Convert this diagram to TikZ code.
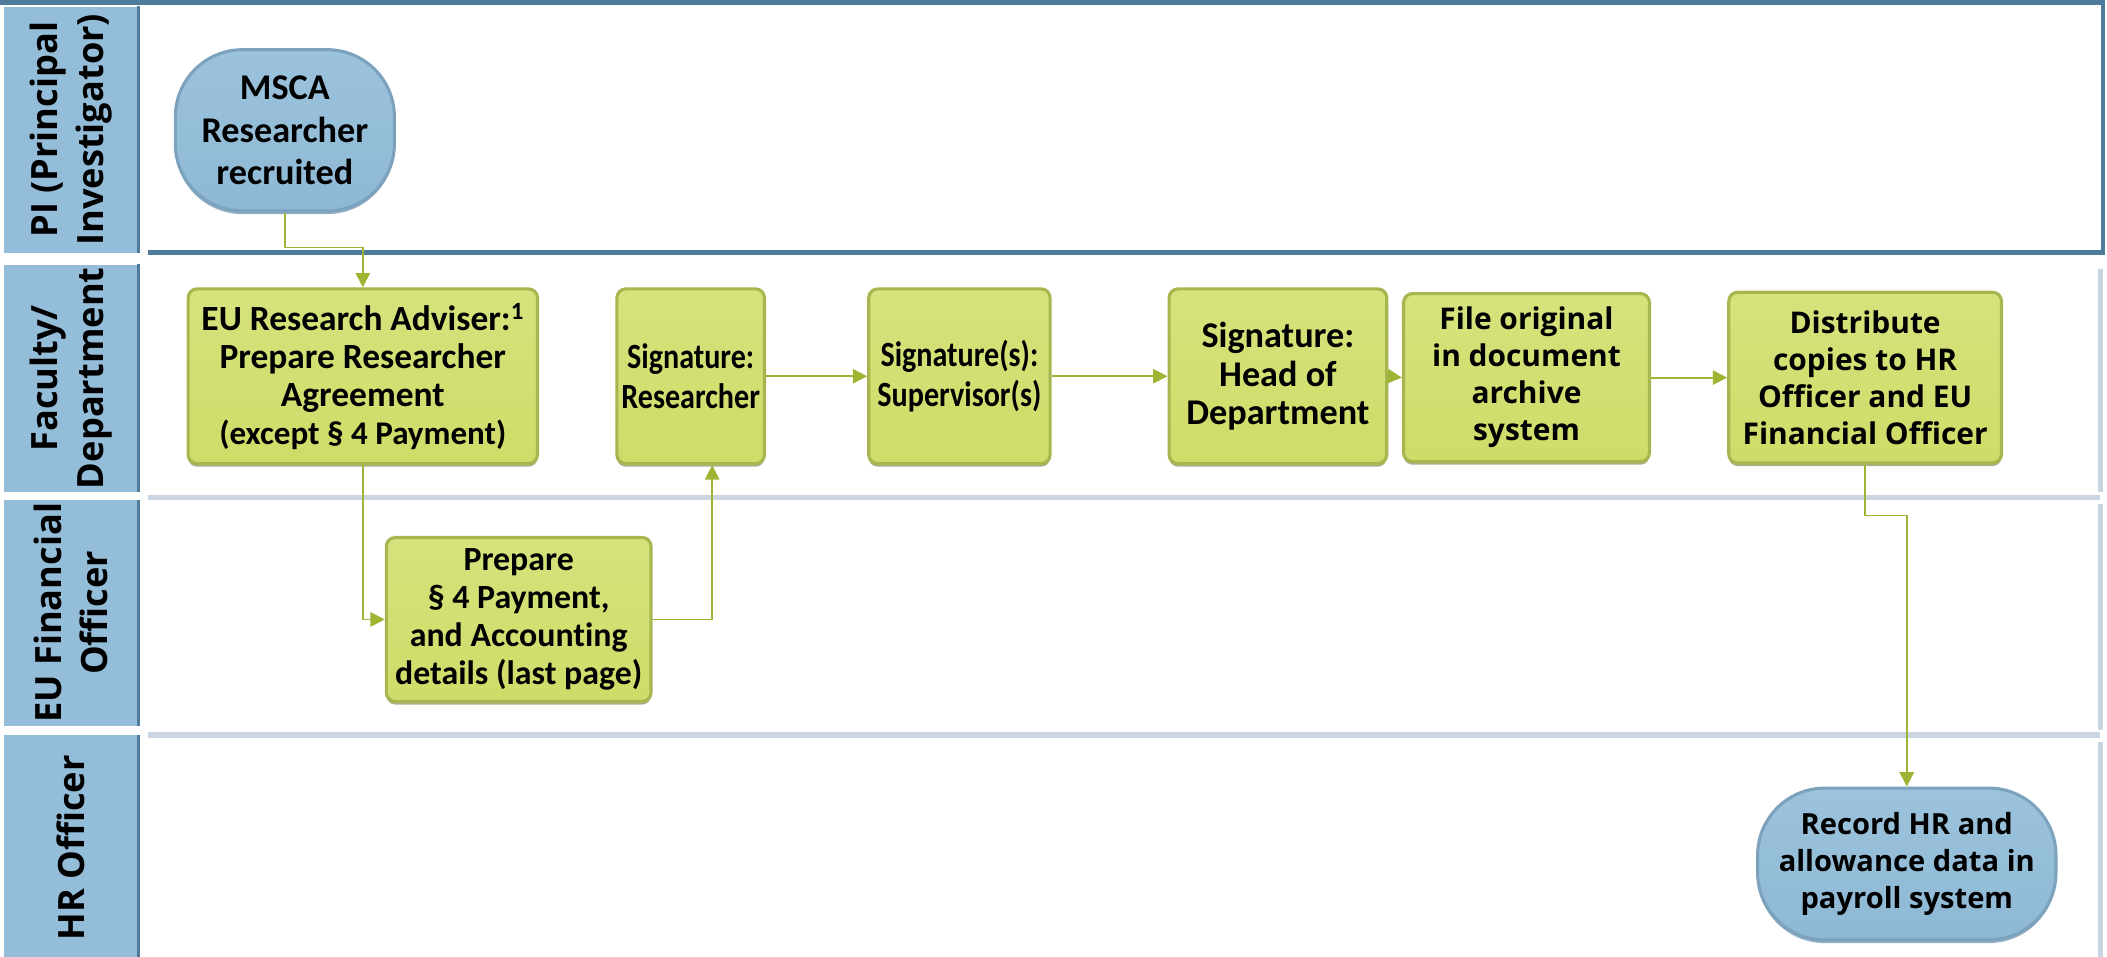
\documentclass[tikz,border=0pt]{standalone}
\usepackage{fontspec}
\usepackage{tikz}
\usetikzlibrary{arrows.meta,shadows}
\newfontfamily\calfont[Ligatures=NoCommon]{Carlito}
\newfontfamily\calnarrow[Ligatures=NoCommon, FakeStretch=0.85]{Carlito}
\newfontfamily\segfont{Open Sans}
\definecolor{laneblue}{HTML}{93BDD8}
\definecolor{lanedark}{HTML}{4F7B9C}
\definecolor{laneline}{HTML}{C9D6E2}
\definecolor{boxgreen}{HTML}{CFDC68}
\definecolor{boxtop}{HTML}{D6E27C}
\definecolor{boxedge}{HTML}{A9B650}
\definecolor{termblue}{HTML}{8DB8D4}
\definecolor{termtop}{HTML}{9CC3DC}
\definecolor{termedge}{HTML}{7CA2BE}
\definecolor{flowgreen}{HTML}{9DB532}

\tikzset{
  lanebox/.style={rotate=90, fill=laneblue, minimum height=30mm, inner sep=0pt, align=center,
    font=\segfont\bfseries\fontsize{23}{29}\selectfont},
  task/.style={rectangle, rounded corners=2mm, top color=boxtop, bottom color=boxgreen, draw=boxedge, line width=0.7mm,
    align=center, inner sep=1mm, drop shadow={fill=boxedge!60!black, opacity=0.55, shadow xshift=0mm, shadow yshift=-0.7mm},
    font=\calfont\bfseries\fontsize{22}{24}\selectfont},
  signtask/.style={task, font=\calnarrow\bfseries\fontsize{22.5}{25}\selectfont},
  taskwide/.style={task, font=\segfont\bfseries\fontsize{19}{23.5}\selectfont},
  terminal/.style={rectangle, rounded corners=15mm, top color=termtop, bottom color=termblue, draw=termedge, line width=0.7mm,
    align=center, inner sep=1mm, drop shadow={fill=lanedark, opacity=0.6, shadow xshift=0mm, shadow yshift=-0.7mm},
    font=\calfont\bfseries\fontsize{23}{27}\selectfont},
  flow/.style={draw=flowgreen, line width=0.4mm, -{Triangle[length=3.2mm, width=3.2mm]}}
}

\begin{document}
\begin{tikzpicture}[x=0.3mm, y=-0.3mm]
\useasboundingbox (0,0) rectangle (1568,712);

\draw[lanedark, line width=1mm] (0,2) -- (1565,2) -- (1565,188) -- (110,188);
\draw[laneline, line width=1.2mm] (110,370) -- (1563,370) (110,547) -- (1563,547);
\draw[laneline, line width=1.2mm] (1563,200) -- (1563,366) (1563,375) -- (1563,543) (1563,552) -- (1563,712);

\node[lanebox, minimum width=54.9mm] (lanepi) at (53,96.5) {PI (Principal\\Investigator)};
\node[lanebox, minimum width=50.7mm] (lanefac) at (53,281.5) {Faculty/\\Department};
\node[lanebox, minimum width=50.4mm] (lanefin) at (53,456) {EU Financial\\Officer};
\node[lanebox, minimum width=50.4mm] (lanehr) at (53,631) {HR Officer};
\foreach \l in {lanepi,lanefac,lanefin,lanehr}
  \draw[lanedark, line width=0.6mm] (\l.south west) -- (\l.south east);

\node[terminal, minimum width=48.9mm, minimum height=36mm] (msca) at (212,97) {MSCA\\Researcher\\recruited};
\node[task, font=\calfont\bfseries\fontsize{22.5}{24}\selectfont, minimum width=78mm, minimum height=39mm] (adviser) at (270,280)
  {EU Research Adviser:\textsuperscript{1}\\Prepare Researcher\\Agreement\\{\fontsize{21}{24}\selectfont(except § 4 Payment)}};
\node[task, font=\calfont\bfseries\fontsize{21.5}{24}\selectfont, minimum width=59.1mm, minimum height=36.6mm] (prep) at (386,461)
  {Prepare\\§ 4 Payment,\\and Accounting\\details (last page)};
\node[signtask, minimum width=32.4mm, minimum height=39mm] (sigres) at (514,280) {Signature:\\Researcher};
\node[signtask, minimum width=40.5mm, minimum height=39mm] (sigsup) at (714,280) {Signature(s):\\Supervisor(s)};
\node[task, font=\calfont\bfseries\fontsize{23}{24.5}\selectfont, minimum width=48.6mm, minimum height=39mm] (sighead) at (951,280)
  {Signature:\\Head of\\Department};
\node[taskwide, minimum width=54.9mm, minimum height=37.5mm] (archive) at (1136,281) {File original\\in document\\archive\\system};
\node[taskwide, minimum width=60.9mm, minimum height=38.1mm] (distrib) at (1388,281) {Distribute\\copies to HR\\Officer and EU\\Financial Officer};
\node[terminal, font=\segfont\bfseries\fontsize{18.5}{23.5}\selectfont, minimum width=66.6mm, minimum height=33.9mm] (record) at (1419,643)
  {Record HR and\\allowance data in\\payroll system};

\draw[flow] (msca.south) -- ++(0,26) -| (adviser.north);
\draw[flow] (adviser.south) |- (prep.west);
\draw[flow] (prep.east) -| ([xshift=4.8mm]sigres.south);
\draw[flow] (sigres.east) -- (sigsup.west);
\draw[flow] (sigsup.east) -- (sighead.west);
\draw[flow] (sighead.east) -- (archive.west);
\draw[flow] (archive.east) -- (distrib.west);
\draw[flow] (distrib.south) -- ++(0,38) -| (record.north);
\end{tikzpicture}
\end{document}
